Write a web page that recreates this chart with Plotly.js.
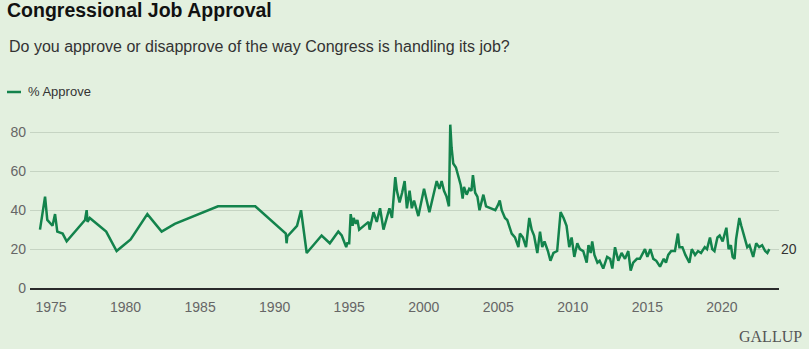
<!DOCTYPE html>
<html>
<head>
<meta charset="utf-8">
<script src="https://cdn.plot.ly/plotly-3.0.1.min.js"></script>
<style>
  html, body { margin: 0; padding: 0; background: #e3f0df; }
  #chart { width: 809px; height: 349px; }
</style>
</head>
<body>
<div id="chart"></div>
<script>
// ---- Data ----
const seriesName = "% Approve";
const years = [
  1974.26, 1974.6, 1974.75, 1975.1, 1975.27, 1975.42, 1975.78, 1976.05,
  1977.28, 1977.39, 1977.45, 1977.6, 1978.7, 1979.4, 1980.34, 1981.46,
  1982.42, 1983.3, 1986.2, 1988.7, 1990.75, 1990.8, 1990.85, 1991.5,
  1991.77, 1992.15, 1993.15, 1993.7, 1994.27, 1994.5, 1994.8, 1994.87,
  1995.0, 1995.1, 1995.23, 1995.3, 1995.45, 1995.55, 1995.67, 1996.0,
  1996.3, 1996.37, 1996.63, 1996.85, 1997.07, 1997.3, 1997.5, 1997.7,
  1997.87, 1998.09, 1998.2, 1998.38, 1998.55, 1998.72, 1998.87, 1999.05,
  1999.2, 1999.35, 1999.64, 2000.02, 2000.38, 2000.6, 2000.87, 2001.05,
  2001.2, 2001.36, 2001.53, 2001.69, 2001.78, 2001.87, 2001.98, 2002.16,
  2002.32, 2002.48, 2002.61, 2002.7, 2002.88, 2003.05, 2003.2, 2003.3,
  2003.45, 2003.6, 2003.74, 2004.0, 2004.18, 2004.5, 2004.8, 2005.0,
  2005.1, 2005.23, 2005.45, 2005.6, 2005.9, 2006.12, 2006.35, 2006.45,
  2006.65, 2006.86, 2007.08, 2007.24, 2007.4, 2007.62, 2007.8, 2007.95,
  2008.1, 2008.33, 2008.5, 2008.7, 2008.95, 2009.18, 2009.38, 2009.58,
  2009.76, 2009.92, 2010.1, 2010.3, 2010.47, 2010.7, 2010.93, 2011.05,
  2011.2, 2011.3, 2011.45, 2011.65, 2011.8, 2012.04, 2012.3, 2012.5,
  2012.65, 2012.83, 2013.05, 2013.27, 2013.5, 2013.72, 2013.88, 2014.05,
  2014.3, 2014.5, 2014.84, 2015.0, 2015.2, 2015.4, 2015.6, 2015.85,
  2016.1, 2016.25, 2016.4, 2016.6, 2016.85, 2017.05, 2017.15, 2017.35,
  2017.55, 2017.82, 2017.98, 2018.2, 2018.4, 2018.6, 2018.85, 2019.0,
  2019.2, 2019.35, 2019.5, 2019.7, 2019.85, 2020.05, 2020.3, 2020.45,
  2020.6, 2020.72, 2020.85, 2020.95, 2021.17, 2021.3, 2021.45, 2021.6,
  2021.7, 2021.85, 2022.0, 2022.1, 2022.3, 2022.5, 2022.7, 2022.9,
  2023.05, 2023.18
];
const approve = [
  30, 47, 35, 32, 38, 29, 28, 24,
  35, 40, 34, 36, 29, 19, 25, 38,
  29, 33, 42, 42, 28, 23, 26.5, 32,
  40, 18, 27, 23, 29, 27, 21, 23,
  23, 38, 32, 36, 33, 35, 30, 32,
  34, 30, 39, 34, 41, 30, 35, 41,
  36, 57, 50, 44, 49, 55, 41, 50,
  41, 45, 37, 51, 39, 46, 55, 51,
  55, 50, 47, 42, 84, 72, 64, 62,
  57, 53, 46, 52, 48, 51, 50, 58,
  49, 47, 40, 48, 42, 41, 40, 43,
  45, 40, 36, 35, 28, 26, 21, 28,
  26, 21, 36, 30, 27, 18, 29, 21,
  24, 19, 14, 18, 19, 39, 36, 32,
  21, 26, 16, 23, 20, 19, 13, 22,
  18, 24, 17, 13, 14, 10, 16, 15,
  10, 21, 14, 18, 15, 19, 9, 13,
  15, 15, 20, 16, 20, 15, 14, 11,
  15, 13, 17, 19, 19, 28, 21, 21,
  17, 13, 20, 17, 19, 18, 21, 20,
  26, 20, 19, 26, 27, 24, 31, 20,
  22, 16, 15, 25, 36, 32, 28, 24,
  21, 22, 19, 16, 23, 21, 22, 19,
  18, 20
];
const xTicks = [1975, 1980, 1985, 1990, 1995, 2000, 2005, 2010, 2015, 2020];
const yTicks = [0, 20, 40, 60, 80];
const titleText = "Congressional Job Approval";
const subtitleText = "Do you approve or disapprove of the way Congress is handling its job?";
const sourceText = "GALLUP";

// ---- Layout helpers ----
const W = 809, H = 349;
const M = { l: 30, r: 30, t: 113, b: 61 };
const PW = W - M.l - M.r, PH = H - M.t - M.b;
const px2x = px => (px - M.l) / PW;
const py2y = py => (H - M.b - py) / PH;

const BG = "#e3f0df";
const GREEN = "#13834c";

const trace = {
  x: years, y: approve, type: "scatter", mode: "lines", name: seriesName,
  line: { color: GREEN, width: 2.5, shape: "linear" },
  hoverinfo: "x+y", showlegend: false
};

const layout = {
  width: W, height: H,
  margin: M,
  paper_bgcolor: BG, plot_bgcolor: BG,
  font: { family: "Liberation Sans, Arial, sans-serif", color: "#333" },
  title: {
    text: "<b>" + titleText + "</b>",
    font: { size: 19.5, color: "#111", family: "Liberation Sans, Arial, sans-serif" },
    xref: "container", yref: "container", x: 7 / W, xanchor: "left",
    y: 1 - 10 / H, yanchor: "middle", pad: { t: 0, l: 0, r: 0, b: 0 }
  },
  xaxis: {
    range: [1973.59, 2023.83], tickvals: xTicks, ticktext: xTicks.map(String),
    showgrid: false, zeroline: false, showline: true, linecolor: "#2a2a2a", linewidth: 1.5,
    ticks: "", ticklabelstandoff: 6,
    tickfont: { size: 14, color: "#666" }, fixedrange: true
  },
  yaxis: {
    range: [0, 90], tickvals: yTicks, ticktext: yTicks.map(String),
    showgrid: true, gridcolor: "#c6d4c3", gridwidth: 1, zeroline: false, showline: false,
    ticks: "", ticklabelstandoff: 3,
    tickfont: { size: 14, color: "#666" }, fixedrange: true
  },
  shapes: [
    { type: "line", xref: "paper", yref: "paper", x0: px2x(7), x1: px2x(21), y0: py2y(92), y1: py2y(92),
      line: { color: GREEN, width: 2.5 } }
  ],
  annotations: [
    { text: subtitleText, xref: "paper", yref: "paper", x: px2x(7), y: py2y(47),
      xanchor: "left", yanchor: "middle", showarrow: false,
      font: { size: 16, color: "#333" } },
    { text: seriesName, xref: "paper", yref: "paper", x: px2x(26), y: py2y(92),
      xanchor: "left", yanchor: "middle", showarrow: false,
      font: { size: 13, color: "#333" } },
    { text: String(approve[approve.length - 1]), xref: "paper", yref: "y", x: 1,
      y: approve[approve.length - 1], xanchor: "left", yanchor: "middle", showarrow: false,
      font: { size: 14, color: "#333" } },
    { text: sourceText, xref: "paper", yref: "paper", x: px2x(804), y: py2y(336),
      xanchor: "right", yanchor: "middle", showarrow: false,
      font: { size: 16, color: "#555", family: "Liberation Serif, Times New Roman, serif" } }
  ],
  showlegend: false
};

Plotly.newPlot("chart", [trace], layout, { displayModeBar: false, staticPlot: true });
</script>
</body>
</html>
